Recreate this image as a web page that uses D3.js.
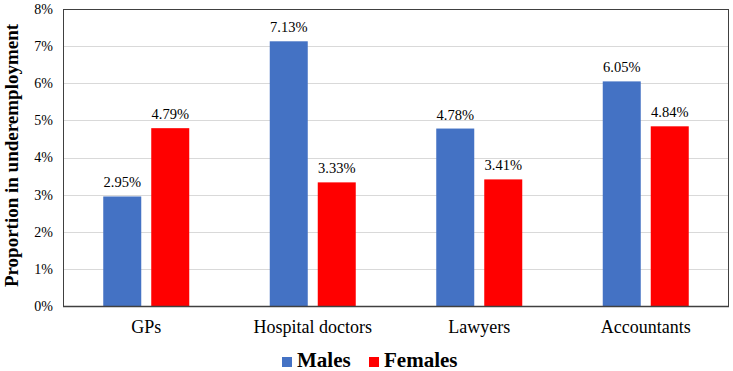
<!DOCTYPE html>
<html>
<head>
<meta charset="utf-8">
<script src="https://cdn.jsdelivr.net/npm/d3@7"></script>
<style>
  html, body { margin: 0; padding: 0; background: #fff; }
  svg { display: block; }
</style>
</head>
<body>
<svg id="chart" width="733" height="371" font-family="Liberation Serif"></svg>
<script>
const categories = ["GPs", "Hospital doctors", "Lawyers", "Accountants"];
const seriesNames = ["Males", "Females"];
const males = [2.95, 7.13, 4.78, 6.05];
const females = [4.79, 3.33, 3.41, 4.84];
const yTicks = [0, 1, 2, 3, 4, 5, 6, 7, 8];
const colors = ["#4472C4", "#FF0000"];
const FONT = "Liberation Serif";

const svg = d3.select("#chart");
const margin = { left: 63, right: 4, top: 9, bottom: 65 };
const W = 733, H = 371;
const plotW = W - margin.left - margin.right;
const plotH = H - margin.top - margin.bottom;

const x0 = d3.scaleBand().domain(categories).range([margin.left, margin.left + plotW]).paddingInner(0).paddingOuter(0);
const y = d3.scaleLinear().domain([0, 8]).range([margin.top + plotH, margin.top]);

// gridlines
svg.append("g").selectAll("line").data(yTicks.filter(t => t > 0 && t < 8)).join("line")
  .attr("x1", margin.left).attr("x2", margin.left + plotW)
  .attr("y1", d => Math.round(y(d)) + 0.5).attr("y2", d => Math.round(y(d)) + 0.5)
  .attr("stroke", "#d9d9d9").attr("stroke-width", 1);

// bars
const barW = 38, gap = 10;
const data = categories.map((c, i) => ({ c, vals: [males[i], females[i]] }));
const groups = svg.append("g").selectAll("g").data(data).join("g");
groups.each(function(d) {
  const cx = x0(d.c) + x0.bandwidth() / 2;
  const g = d3.select(this);
  d.vals.forEach((v, k) => {
    const bx = k === 0 ? cx - gap / 2 - barW : cx + gap / 2;
    g.append("rect")
      .attr("x", bx).attr("width", barW)
      .attr("y", y(v)).attr("height", y(0) - y(v))
      .attr("fill", colors[k]);
    g.append("text")
      .attr("x", bx + barW / 2).attr("y", y(v) - 9)
      .attr("text-anchor", "middle")
      .attr("font-family", FONT)
      .attr("font-size", 14.5).attr("fill", "#000")
      .text(v.toFixed(2) + "%");
  });
});

// border
svg.append("rect")
  .attr("x", margin.left + 0.5).attr("y", margin.top + 0.5)
  .attr("width", plotW - 1).attr("height", plotH)
  .attr("fill", "none").attr("stroke", "#404040").attr("stroke-width", 1);
svg.append("line")
  .attr("x1", margin.left).attr("x2", margin.left + plotW)
  .attr("y1", Math.round(y(0)) + 0.5).attr("y2", Math.round(y(0)) + 0.5)
  .attr("stroke", "#404040").attr("stroke-width", 1.5);

// y axis labels
const yAxis = d3.axisLeft(y).tickValues(yTicks).tickSize(0).tickPadding(10).tickFormat(d => d + "%");
const ya = svg.append("g").attr("transform", `translate(${margin.left},0)`).call(yAxis);
ya.attr("font-family", FONT).attr("font-size", 14);
ya.select(".domain").remove();
ya.selectAll("text").attr("fill", "#000").attr("font-family", FONT);

// x axis labels
const xAxis = d3.axisBottom(x0).tickSize(0).tickPadding(14);
const xa = svg.append("g").attr("transform", `translate(0,${y(0)})`).call(xAxis);
xa.attr("font-family", FONT).attr("font-size", 18);
xa.select(".domain").remove();
xa.selectAll("text").attr("fill", "#000").attr("font-family", FONT);

// y title
svg.append("text")
  .attr("transform", `translate(18,${margin.top + plotH / 2 - 2}) rotate(-90)`)
  .attr("text-anchor", "middle")
  .attr("font-family", FONT)
  .attr("font-size", 19).attr("font-weight", "bold")
  .text("Proportion in underemployment");

// legend
const legend = svg.append("g");
const legendX = [282, 369];
seriesNames.forEach((s, k) => {
  legend.append("rect").attr("x", legendX[k]).attr("y", 357).attr("width", 10).attr("height", 10).attr("fill", colors[k]);
  legend.append("text").attr("x", legendX[k] + 15).attr("y", 367)
    .attr("font-family", FONT)
    .attr("font-size", 21).attr("font-weight", "bold").text(s);
});
</script>
</body>
</html>
